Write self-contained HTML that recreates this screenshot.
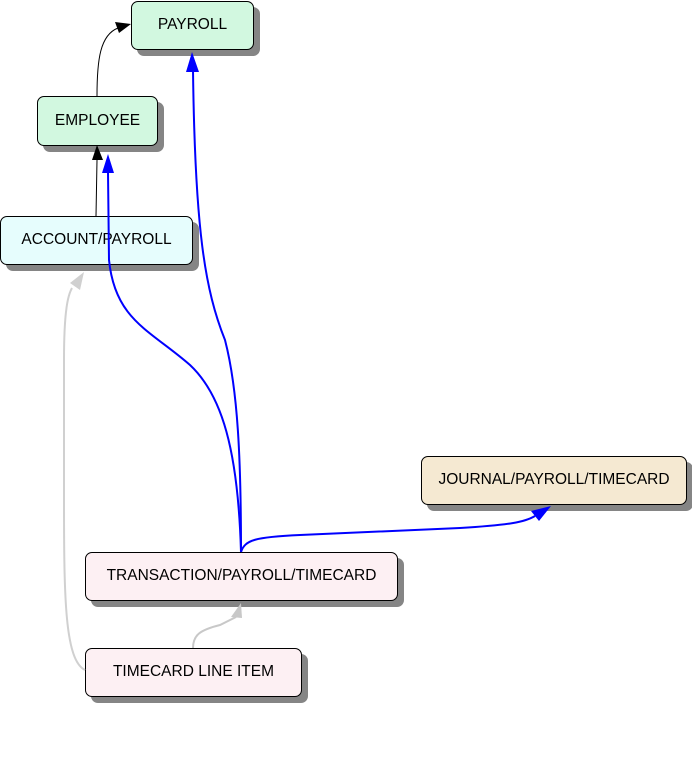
<!DOCTYPE html>
<html><head><meta charset="utf-8"><style>
body{margin:0;width:692px;height:757px;background:#fff;position:relative;overflow:hidden;font-family:"Liberation Sans",sans-serif;}
.b{position:absolute;border:1px solid #000;border-radius:7px;box-shadow:6px 6px 0 #858585;display:flex;align-items:center;justify-content:center;font-size:15.5px;color:#000;box-sizing:border-box;padding-bottom:1px;}
svg{position:absolute;left:0;top:0}
</style></head><body>
<div class="b" style="left:131px;top:1px;width:123px;height:49px;background:#d2f8e0">PAYROLL</div>
<div class="b" style="left:37px;top:96px;width:121px;height:50px;background:#d2f8e0">EMPLOYEE</div>
<div class="b" style="left:0px;top:216px;width:193px;height:49px;background:#e6fdfd">ACCOUNT/PAYROLL</div>
<div class="b" style="left:421px;top:456px;width:266px;height:49px;background:#f5e9d2">JOURNAL/PAYROLL/TIMECARD</div>
<div class="b" style="left:85px;top:552px;width:313px;height:49px;background:#fdf0f3">TRANSACTION/PAYROLL/TIMECARD</div>
<div class="b" style="left:85px;top:648px;width:217px;height:49px;background:#fdf0f3">TIMECARD LINE ITEM</div>
<svg width="692" height="757">
<g fill="none">
<path d="M97 96 C97 60 100 35 118 28" stroke="#000" stroke-width="1"/>
<path d="M96 216 L97 160" stroke="#000" stroke-width="1"/>
<path d="M241 552 C241 460 238 390 225 340 C205 290 195 230 193 70" stroke="#0000ff" stroke-width="2"/>
<path d="M241 552 C238 450 222 395 190 365 C150 330 115 320 109 260 L108 172" stroke="#0000ff" stroke-width="2"/>
<path d="M241 552 C245 540 255 537 300 535 L460 528 C510 525 525 522 535 516" stroke="#0000ff" stroke-width="2"/>
<path d="M193 648 C193 635 200 630 220 625 L236 617" stroke="#c8c8c8" stroke-width="2"/>
<path d="M85 670 C65 660 64 600 64 500 L64 360 C64 310 68 295 72 288" stroke="#d0d0d0" stroke-width="2"/>
</g>
<polygon points="131,24 115,22 119,33" fill="#000"/>
<polygon points="97,145 92,160 103,160" fill="#000"/>
<polygon points="192,52 186,72 199,72" fill="#0000ff"/>
<polygon points="108,154 102,173 114,173" fill="#0000ff"/>
<polygon points="551,506 531,511 539,521" fill="#0000ff"/>
<polygon points="241,603 231,617 242,618" fill="#c8c8c8"/>
<polygon points="84,272 70,283 80,290" fill="#d0d0d0"/>
</svg>
</body></html>
